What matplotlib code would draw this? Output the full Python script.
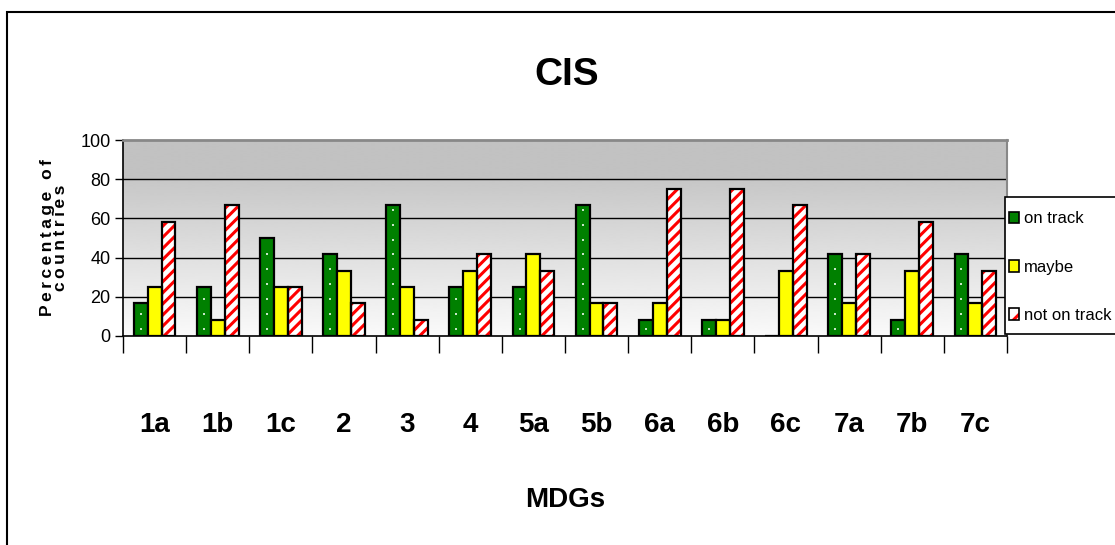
import numpy as np
import matplotlib.pyplot as plt
from matplotlib.patches import Patch, Rectangle

plt.rcParams['hatch.linewidth'] = 2.2

mdgs = ['1a', '1b', '1c', '2', '3', '4', '5a', '5b', '6a', '6b', '6c', '7a', '7b', '7c']
on_track = [16.7, 25, 50, 41.7, 66.7, 25, 25, 66.7, 8.3, 8.3, 0, 41.7, 8.3, 41.7]
maybe = [25, 8.3, 25, 33.3, 25, 33.3, 41.7, 16.7, 16.7, 8.3, 33.3, 16.7, 33.3, 16.7]
not_on_track = [58.3, 66.7, 25, 16.7, 8.3, 41.7, 33.3, 16.7, 75, 75, 66.7, 41.7, 58.3, 33.3]

font = ['Liberation Sans', 'DejaVu Sans']

fig = plt.figure(figsize=(11.15, 5.45), dpi=100)
ax = fig.add_axes([0.1103, 0.3835, 0.7928, 0.3596])

x = np.arange(len(mdgs))
w = 0.22

# gray band on top, fading to white towards the bottom
yy = np.linspace(100, 0, 400)
shade = np.where(yy >= 80, 0.76, 0.78 + (80 - yy) / 80 * 0.20)
ax.imshow(shade[:, None], extent=(-0.5, 13.5, 0, 100), aspect='auto',
          cmap='gray', vmin=0, vmax=1, zorder=0, interpolation='bilinear')

for yv in [20, 40, 60, 80]:
    ax.axhline(yv, color='black', lw=1, zorder=1)

# on track: green with a column of small light dots
ax.bar(x - w, on_track, w, color='#008000', lw=0, zorder=2)
for xi, h in zip(x, on_track):
    dots = np.arange(3.6, h - 2, 7.6)
    ax.scatter(np.full(len(dots), xi - w), dots, s=3, marker='s',
               color='#c8e6c8', lw=0, zorder=2.5)
ax.bar(x - w, on_track, w, facecolor='none', edgecolor='black', lw=1.6, zorder=3)

# maybe: plain yellow
ax.bar(x, maybe, w, color='#ffff00', edgecolor='black', lw=1.6, zorder=3)

# not on track: red diagonal stripes on white
ax.bar(x + w, not_on_track, w, color='white', edgecolor='#ff0000', hatch='///',
       lw=0, zorder=2)
ax.bar(x + w, not_on_track, w, facecolor='none', edgecolor='black', lw=1.6, zorder=3)

handles = [
    (Patch(facecolor='#008000', lw=0), Patch(facecolor='none', edgecolor='black', lw=1.2)),
    (Patch(facecolor='#ffff00', lw=0), Patch(facecolor='none', edgecolor='black', lw=1.2)),
    (Patch(facecolor='white', edgecolor='#ff0000', hatch='//', lw=0),
     Patch(facecolor='none', edgecolor='black', lw=1.2)),
]

ax.set_xlim(-0.5, 13.5)
ax.set_ylim(0, 100)
ax.set_yticks([0, 20, 40, 60, 80, 100])
ax.set_yticklabels(['0', '20', '40', '60', '80', '100'], family=font, fontsize=13)
ax.tick_params(axis='y', length=6, width=1, pad=3)

ax.set_xticks(x)
ax.set_xticklabels(mdgs, family=font, fontsize=20, fontweight='bold')
ax.set_xticks(np.arange(-0.5, 14, 1), minor=True)
ax.tick_params(axis='x', which='major', length=0, pad=55)
ax.tick_params(axis='x', which='minor', length=12, width=1)

ax.spines['left'].set_linewidth(1.2)
ax.spines['bottom'].set_linewidth(1.2)
ax.spines['top'].set_color('#888888')
ax.spines['top'].set_linewidth(2)
ax.spines['right'].set_color('#888888')
ax.spines['right'].set_linewidth(1.5)

sp = '\u2009'
ax.set_ylabel(sp.join('Percentage of') + '\n' + sp.join('countries'),
              family=font, fontsize=12.5, fontweight='bold', labelpad=9,
              linespacing=0.85)
ax.set_xlabel('MDGs', family=font, fontsize=20, fontweight='bold', labelpad=35)

fig.text(0.508, 0.862, 'CIS', family=font, fontsize=28, fontweight='bold',
         ha='center', va='center')

# legend box sits on the right edge of the chart
fig.patches.append(Rectangle((1005 / 1115, 1 - 334 / 545), 0.2, 137 / 545,
                             transform=fig.transFigure, facecolor='white',
                             edgecolor='black', lw=1.2, zorder=4))
fig.legend(handles, ['on track', 'maybe', 'not on track'], loc='upper left',
           bbox_to_anchor=(1006 / 1115, 1 - 208 / 545), prop={'family': font, 'size': 12},
           handlelength=0.6, handleheight=0.7, handletextpad=0.25,
           labelspacing=2.0, borderpad=0.2, borderaxespad=0,
           frameon=False).set_zorder(5)

# outer chart border
fig.patches.append(Rectangle((7 / 1115, -0.1), 1.2, 1.1 - 12 / 545,
                             transform=fig.transFigure, fill=False,
                             edgecolor='black', lw=1.5))

fig.savefig('out.png', dpi=100)
